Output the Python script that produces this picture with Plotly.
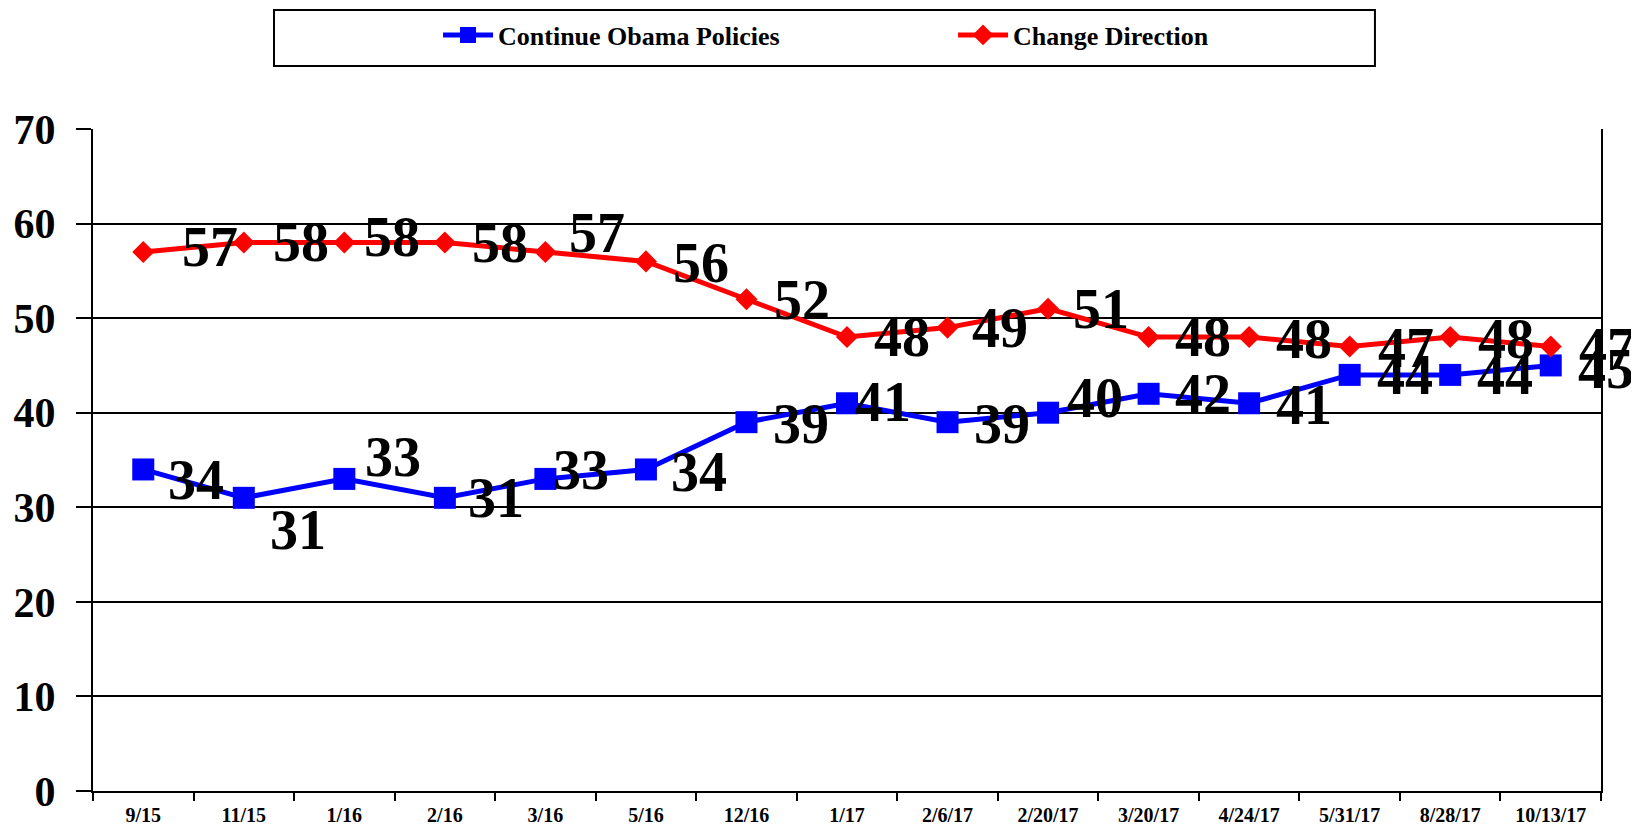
import plotly.graph_objects as go

categories = ['9/15', '11/15', '1/16', '2/16', '3/16', '5/16', '12/16', '1/17',
              '2/6/17', '2/20/17', '3/20/17', '4/24/17', '5/31/17', '8/28/17', '10/13/17']
continue_obama = [34, 31, 33, 31, 33, 34, 39, 41, 39, 40, 42, 41, 44, 44, 45]
change_direction = [57, 58, 58, 58, 57, 56, 52, 48, 49, 51, 48, 48, 47, 48, 47]
y_ticks = [0, 10, 20, 30, 40, 50, 60, 70]

# label offsets in pixels (dx right, dy down) as placed in the original chart
red_dx = [67, 57, 48, 55, 52, 55, 56, 55, 52, 53, 54, 55, 56, 56, 56]
red_dy = [-3, 2, -3, 3, -17, 4, 3, 2, 2, 2, 2, 4, 3, 4, 3]
blue_dx = [53, 54, 49, 51, 36, 53, 55, 36, 54, 47, 54, 55, 55, 55, 55]
blue_dy = [13, 34, -20, 2, -7, 5, 4, 1, 4, -13, 2, 4, 2, 2, 6]

SERIF = 'Liberation Serif'
BLUE = '#0000FF'
RED = '#FF0000'

fig = go.Figure()
fig.add_trace(go.Scatter(
    x=categories, y=continue_obama, name='Continue Obama Policies',
    mode='lines+markers', line=dict(color=BLUE, width=5),
    marker=dict(symbol='square', size=22, color=BLUE)))
fig.add_trace(go.Scatter(
    x=categories, y=change_direction, name='Change Direction',
    mode='lines+markers', line=dict(color=RED, width=5),
    marker=dict(symbol='diamond', size=17, color=RED)))

label_font = dict(family=SERIF, size=56, color='black', weight='bold')
for vals, dxs, dys in ((change_direction, red_dx, red_dy), (continue_obama, blue_dx, blue_dy)):
    for c, v, dx, dy in zip(categories, vals, dxs, dys):
        fig.add_annotation(x=c, y=v, text=str(v), showarrow=False,
                           xanchor='center', yanchor='middle',
                           xshift=dx, yshift=-dy + 2, font=label_font)

# legend frame
fig.add_shape(type='rect', xref='paper', yref='paper',
              x0=0.12003, x1=0.8501, y0=1.0953, y1=1.1798,
              line=dict(color='black', width=2), fillcolor='white', layer='below')

# the page body has an 8px default margin, so the figure is sized to fit the window
fig.update_layout(
    width=1631, height=820,
    margin=dict(l=85, r=38, t=121, b=37, autoexpand=False),
    paper_bgcolor='white', plot_bgcolor='white',
    showlegend=True,
    legend=dict(orientation='h', x=0.2288, xanchor='left', y=1.142, yanchor='middle',
                font=dict(family=SERIF, size=26, color='black', weight='bold'),
                bgcolor='rgba(0,0,0,0)', borderwidth=0, entrywidth=450, itemwidth=50),
    xaxis=dict(type='category', categoryorder='array', categoryarray=categories,
               showline=True, linecolor='black', linewidth=2, automargin=False,
               ticks='outside', tickson='boundaries', ticklen=8, tickwidth=2, tickcolor='black',
               ticklabelstandoff=5,
               tickfont=dict(family=SERIF, size=20, color='black', weight='bold'),
               showgrid=False, range=[-0.5, len(categories) - 0.5]),
    yaxis=dict(range=[0, 70], tickvals=y_ticks, automargin=False,
               showline=True, linecolor='black', linewidth=2, mirror=True,
               ticks='outside', ticklen=15, tickwidth=2, tickcolor='black',
               ticklabelstandoff=12,
               tickfont=dict(family=SERIF, size=42, color='black', weight='bold'),
               showgrid=True, gridcolor='black', gridwidth=1.5, zeroline=False),
    hovermode=False,
)

fig.write_html('out.html', config={'displayModeBar': False})
